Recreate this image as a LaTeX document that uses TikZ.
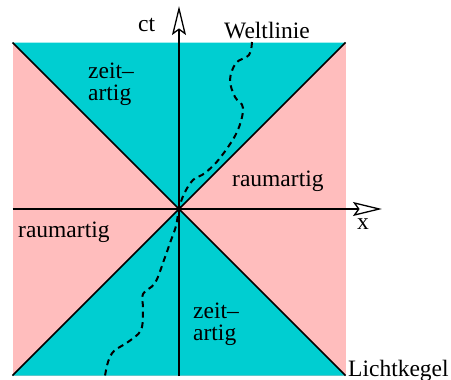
\documentclass[tikz,border=0pt]{standalone}
\usepackage{fontspec}
\setmainfont{Liberation Serif}
\usetikzlibrary{arrows.meta}
\definecolor{pinkr}{RGB}{255,189,189}
\definecolor{cyanr}{RGB}{0,206,209}
\begin{document}
\begin{tikzpicture}[x=1pt,y=-1pt,
  lbl/.style={inner sep=0pt,anchor=base west,font=\fontsize{23.5}{22}\selectfont,align=left},
  axis/.style={line width=1.7pt,-{Stealth[fill=white,length=29pt,width=14pt,inset=5pt,line width=1.3pt]}},
  cone/.style={line width=1.6pt},
  world/.style={line width=2pt,dash pattern=on 6pt off 4.5pt}]
\useasboundingbox (0,0) rectangle (451,380);
\coordinate (O) at (179,209);
\coordinate (TL) at (12.5,42.5);
\coordinate (TR) at (345.5,42.5);
\coordinate (BL) at (12.5,375.5);
\coordinate (BR) at (345.5,375.5);
\fill[pinkr] (TL) rectangle (BR);
\fill[cyanr] (TL) -- (TR) -- (O) -- cycle;
\fill[cyanr] (BL) -- (BR) -- (O) -- cycle;
\draw[cone] (TL) -- (BR);
\draw[cone] (TR) -- (BL);
\coordinate (yb) at (179,376);
\coordinate (yt) at (179,6);
\coordinate (xl) at (12.5,209);
\coordinate (xr) at (382,209);
\draw[axis] (yb) -- (yt);
\draw[axis] (xl) -- (xr);
\draw[world] plot[smooth,tension=0.6] coordinates {(252,42) (249,55) (236,63) (230,80) (235,97) (243,108) (237,132) (220,158) (205,173) (193,180) (184,194) (179,209) (176,226) (170,243) (164,260) (155,283) (143,294) (143,309) (141,330) (128,342) (114,351) (108,362) (105,376)};
\node[lbl] (ct) at (138,31) {ct};
\node[lbl] (welt) at (224,38) {Weltlinie};
\node[lbl] (z1) at (88,100) {zeit–\\artig};
\node[lbl] (r1) at (232,186) {raumartig};
\node[lbl] (r2) at (18,237) {raumartig};
\node[lbl] (x) at (357,229) {x};
\node[lbl] (z2) at (193,340) {zeit–\\artig};
\node[lbl] (licht) at (348,376) {Lichtkegel};
\end{tikzpicture}
\end{document}
